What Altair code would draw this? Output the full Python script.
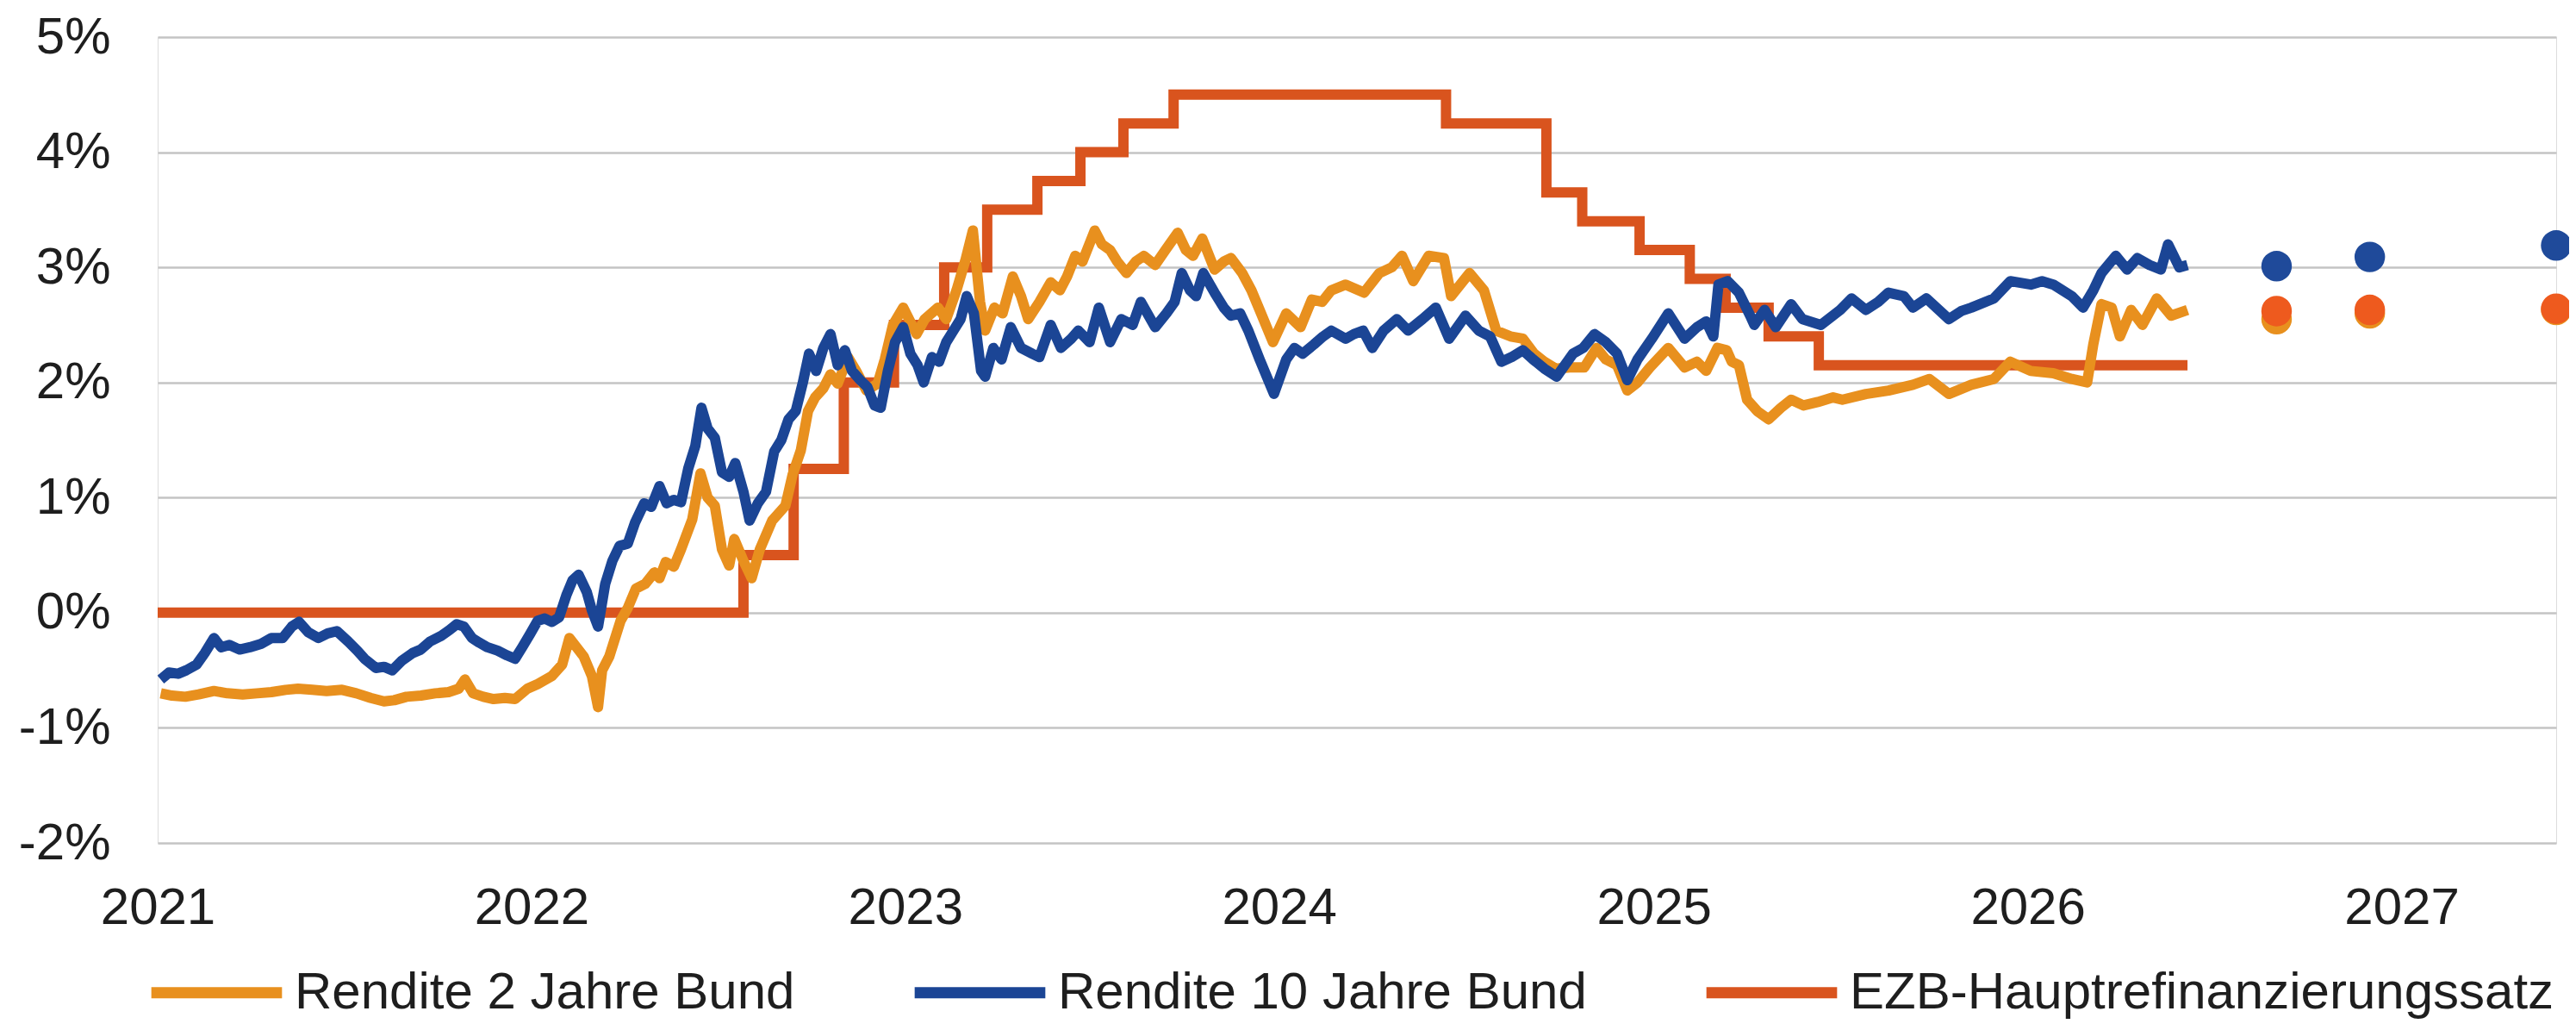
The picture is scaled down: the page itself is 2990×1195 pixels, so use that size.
import altair as alt
import pandas as pd

S2 = "Rendite 2 Jahre Bund"
S10 = "Rendite 10 Jahre Bund"
SE = "EZB-Hauptrefinanzierungssatz"
series_names = [S2, S10, SE]
series_colors = ["#E8901E", "#1B4595", "#D9541E"]

# ---- Rendite 2 Jahre Bund (in %) ----
dates_2y = [
    "2021-01-04", "2021-01-15", "2021-01-28", "2021-02-10", "2021-02-25", "2021-03-10", "2021-03-25", "2021-04-08",
    "2021-04-22", "2021-05-06", "2021-05-18", "2021-06-01", "2021-06-15", "2021-06-30", "2021-07-14", "2021-07-28",
    "2021-08-10", "2021-08-20", "2021-09-01", "2021-09-15", "2021-09-29", "2021-10-12", "2021-10-22", "2021-10-28",
    "2021-11-05", "2021-11-15", "2021-11-25", "2021-12-06", "2021-12-16", "2021-12-28",
    "2022-01-07", "2022-01-21", "2022-01-31", "2022-02-07", "2022-02-14", "2022-02-21", "2022-03-01", "2022-03-07",
    "2022-03-11", "2022-03-18", "2022-03-29", "2022-04-05", "2022-04-13", "2022-04-22", "2022-05-01", "2022-05-06",
    "2022-05-12", "2022-05-20", "2022-05-27", "2022-06-07", "2022-06-15", "2022-06-22", "2022-06-29", "2022-07-06",
    "2022-07-13", "2022-07-18", "2022-07-27", "2022-08-04", "2022-08-12", "2022-08-24", "2022-09-06", "2022-09-13",
    "2022-09-21", "2022-09-28", "2022-10-05", "2022-10-13", "2022-10-20", "2022-10-27", "2022-11-06", "2022-11-14",
    "2022-11-24", "2022-12-05", "2022-12-12", "2022-12-20", "2022-12-30",
    "2023-01-12", "2023-01-20", "2023-02-02", "2023-02-10", "2023-02-20", "2023-03-01", "2023-03-08", "2023-03-15",
    "2023-03-20", "2023-03-29", "2023-04-06", "2023-04-16", "2023-04-24", "2023-05-01", "2023-05-12", "2023-05-23",
    "2023-06-01", "2023-06-08", "2023-06-16", "2023-06-23", "2023-07-05", "2023-07-12", "2023-07-20", "2023-07-27",
    "2023-08-05", "2023-08-14", "2023-08-22", "2023-09-02", "2023-09-12", "2023-09-24", "2023-10-02", "2023-10-09",
    "2023-10-18", "2023-10-30", "2023-11-08", "2023-11-15", "2023-11-26", "2023-12-05", "2023-12-13", "2023-12-26",
    "2024-01-08", "2024-01-22", "2024-02-02", "2024-02-12", "2024-02-21", "2024-03-06", "2024-03-24", "2024-04-08",
    "2024-04-20", "2024-04-30", "2024-05-11", "2024-05-26", "2024-06-10", "2024-06-17", "2024-07-05", "2024-07-19",
    "2024-07-31", "2024-08-14", "2024-08-26", "2024-09-06", "2024-09-16", "2024-09-27", "2024-10-11", "2024-10-25",
    "2024-11-06", "2024-11-15", "2024-11-26", "2024-12-06", "2024-12-16", "2024-12-28",
    "2025-01-15", "2025-01-31", "2025-02-12", "2025-02-21", "2025-03-04", "2025-03-13", "2025-03-18", "2025-03-25",
    "2025-04-02", "2025-04-12", "2025-04-23", "2025-05-05", "2025-05-15", "2025-05-27", "2025-06-10", "2025-06-25",
    "2025-07-04", "2025-07-27", "2025-08-18", "2025-09-11", "2025-09-27", "2025-10-16", "2025-11-07", "2025-11-29",
    "2025-12-15",
    "2026-01-04", "2026-01-26", "2026-02-13", "2026-02-28", "2026-03-06", "2026-03-14", "2026-03-24", "2026-04-01",
    "2026-04-12", "2026-04-23", "2026-05-07", "2026-05-21", "2026-06-06",
]
yield_2y = [
    -0.70, -0.72, -0.73, -0.71, -0.68, -0.70, -0.71, -0.70,
    -0.69, -0.67, -0.66, -0.67, -0.68, -0.67, -0.70, -0.74,
    -0.77, -0.76, -0.73, -0.72, -0.70, -0.69, -0.66, -0.58,
    -0.70, -0.73, -0.75, -0.74, -0.75, -0.66,
    -0.62, -0.55, -0.45, -0.22, -0.30, -0.38, -0.55, -0.82,
    -0.50, -0.38, -0.07, 0.04, 0.21, 0.25, 0.35, 0.30,
    0.44, 0.40, 0.55, 0.81, 1.21, 1.00, 0.93, 0.55,
    0.41, 0.64, 0.45, 0.30, 0.55, 0.80, 0.93, 1.20,
    1.41, 1.75, 1.87, 1.95, 2.07, 1.99, 2.22, 2.10,
    1.93, 1.99, 2.20, 2.50, 2.65,
    2.42, 2.55, 2.65, 2.55, 2.80, 3.07, 3.32, 2.70,
    2.45, 2.65, 2.60, 2.92, 2.75, 2.55, 2.70, 2.87,
    2.80, 2.92, 3.10, 3.05, 3.32, 3.20, 3.15, 3.05,
    2.95, 3.05, 3.10, 3.02, 3.15, 3.30, 3.15, 3.10,
    3.25, 2.98, 3.05, 3.08, 2.95, 2.80, 2.63, 2.35,
    2.60, 2.48, 2.72, 2.70, 2.80, 2.85, 2.78, 2.95,
    3.00, 3.10, 2.88, 3.10, 3.08, 2.75, 2.95, 2.80,
    2.45, 2.40, 2.38, 2.25, 2.18, 2.12, 2.13, 2.13,
    2.30, 2.20, 2.15, 1.93, 2.00, 2.13,
    2.30, 2.13, 2.18, 2.10, 2.30, 2.28, 2.18, 2.15,
    1.85, 1.75, 1.68, 1.78, 1.85, 1.80, 1.83, 1.87,
    1.85, 1.90, 1.93, 1.98, 2.03, 1.90, 1.98, 2.03,
    2.18,
    2.10, 2.08, 2.03, 2.00, 2.33, 2.68, 2.65, 2.40,
    2.63, 2.50, 2.73, 2.58, 2.63,
]

# ---- Rendite 10 Jahre Bund (in %) ----
dates_10y = [
    "2021-01-04", "2021-01-12", "2021-01-21", "2021-01-29", "2021-02-08", "2021-02-16", "2021-02-25", "2021-03-04",
    "2021-03-12", "2021-03-22", "2021-04-01", "2021-04-12", "2021-04-22", "2021-05-03", "2021-05-12", "2021-05-19",
    "2021-05-28", "2021-06-07", "2021-06-16", "2021-06-25", "2021-07-06", "2021-07-15", "2021-07-22", "2021-08-02",
    "2021-08-10", "2021-08-18", "2021-08-27", "2021-09-07", "2021-09-15", "2021-09-24", "2021-10-05", "2021-10-13",
    "2021-10-20", "2021-10-27", "2021-11-04", "2021-11-11", "2021-11-19", "2021-11-29", "2021-12-08", "2021-12-16",
    "2021-12-23", "2021-12-31",
    "2022-01-07", "2022-01-14", "2022-01-21", "2022-01-28", "2022-02-04", "2022-02-10", "2022-02-16", "2022-02-24",
    "2022-03-01", "2022-03-07", "2022-03-14", "2022-03-21", "2022-03-28", "2022-04-05", "2022-04-12", "2022-04-21",
    "2022-04-28", "2022-05-06", "2022-05-13", "2022-05-20", "2022-05-27", "2022-06-03", "2022-06-10", "2022-06-16",
    "2022-06-22", "2022-06-29", "2022-07-06", "2022-07-13", "2022-07-19", "2022-07-27", "2022-08-02", "2022-08-10",
    "2022-08-18", "2022-08-26", "2022-09-02", "2022-09-09", "2022-09-16", "2022-09-23", "2022-09-29", "2022-10-06",
    "2022-10-13", "2022-10-20", "2022-10-27", "2022-11-03", "2022-11-10", "2022-11-18", "2022-11-25", "2022-12-02",
    "2022-12-08", "2022-12-15", "2022-12-22", "2022-12-30",
    "2023-01-06", "2023-01-13", "2023-01-19", "2023-01-27", "2023-02-03", "2023-02-10", "2023-02-17", "2023-02-24",
    "2023-03-02", "2023-03-09", "2023-03-16", "2023-03-20", "2023-03-28", "2023-04-05", "2023-04-14", "2023-04-24",
    "2023-05-05", "2023-05-12", "2023-05-23", "2023-06-02", "2023-06-12", "2023-06-19", "2023-06-30", "2023-07-09",
    "2023-07-20", "2023-07-31", "2023-08-11", "2023-08-19", "2023-09-02", "2023-09-13", "2023-09-21", "2023-09-28",
    "2023-10-06", "2023-10-12", "2023-10-19", "2023-10-30", "2023-11-08", "2023-11-15", "2023-11-24", "2023-12-02",
    "2023-12-13", "2023-12-27",
    "2024-01-08", "2024-01-16", "2024-01-24", "2024-02-04", "2024-02-13", "2024-02-21", "2024-03-06", "2024-03-14",
    "2024-03-23", "2024-04-01", "2024-04-12", "2024-04-25", "2024-05-06", "2024-05-20", "2024-06-02", "2024-06-15",
    "2024-07-01", "2024-07-14", "2024-07-25", "2024-08-05", "2024-08-15", "2024-08-26", "2024-09-05", "2024-09-16",
    "2024-09-28", "2024-10-14", "2024-10-24", "2024-11-04", "2024-11-15", "2024-11-26", "2024-12-06", "2024-12-16",
    "2024-12-30",
    "2025-01-15", "2025-01-31", "2025-02-12", "2025-02-21", "2025-02-28", "2025-03-05", "2025-03-14", "2025-03-25",
    "2025-04-05", "2025-04-09", "2025-04-19", "2025-04-30", "2025-05-15", "2025-05-26", "2025-06-13", "2025-07-02",
    "2025-07-13", "2025-07-27", "2025-08-08", "2025-08-18", "2025-09-02", "2025-09-11", "2025-09-24", "2025-10-16",
    "2025-10-28", "2025-11-07", "2025-11-29", "2025-12-15",
    "2026-01-04", "2026-01-15", "2026-01-26", "2026-02-13", "2026-02-24", "2026-03-06", "2026-03-14", "2026-03-28",
    "2026-04-08", "2026-04-18", "2026-04-30", "2026-05-11", "2026-05-18", "2026-05-29", "2026-06-06",
]
yield_10y = [
    -0.58, -0.52, -0.53, -0.50, -0.45, -0.35, -0.22, -0.30,
    -0.28, -0.32, -0.30, -0.27, -0.22, -0.22, -0.12, -0.08,
    -0.17, -0.22, -0.18, -0.16, -0.25, -0.33, -0.40, -0.48,
    -0.47, -0.50, -0.42, -0.35, -0.32, -0.25, -0.20, -0.15,
    -0.10, -0.12, -0.22, -0.26, -0.30, -0.33, -0.37, -0.40,
    -0.30, -0.18,
    -0.07, -0.05, -0.08, -0.04, 0.15, 0.28, 0.33, 0.18,
    0.02, -0.12, 0.25, 0.45, 0.58, 0.60, 0.78, 0.95,
    0.92, 1.10, 0.95, 0.98, 0.96, 1.25, 1.45, 1.78,
    1.60, 1.52, 1.22, 1.18, 1.30, 1.05, 0.80, 0.95,
    1.05, 1.40, 1.50, 1.68, 1.75, 2.00, 2.25, 2.10,
    2.30, 2.42, 2.15, 2.28, 2.10, 2.02, 1.96, 1.80,
    1.78, 2.10, 2.35, 2.48,
    2.25, 2.15, 2.00, 2.22, 2.18, 2.35, 2.45, 2.55,
    2.75, 2.60, 2.10, 2.05, 2.30, 2.20, 2.48, 2.30,
    2.25, 2.22, 2.50, 2.30, 2.38, 2.45, 2.35, 2.65,
    2.35, 2.55, 2.50, 2.70, 2.48, 2.60, 2.70, 2.95,
    2.80, 2.75, 2.95, 2.78, 2.65, 2.58, 2.60, 2.45,
    2.20, 1.90,
    2.20, 2.30, 2.25, 2.33, 2.40, 2.45, 2.38, 2.42,
    2.45, 2.30, 2.45, 2.55, 2.45, 2.55, 2.65, 2.38,
    2.58, 2.45, 2.40, 2.18, 2.22, 2.28, 2.20, 2.12,
    2.05, 2.25, 2.30, 2.42, 2.35, 2.25, 2.02, 2.20,
    2.38,
    2.60, 2.38, 2.48, 2.53, 2.40, 2.85, 2.88, 2.78,
    2.58, 2.50, 2.63, 2.48, 2.68, 2.55, 2.50, 2.63,
    2.73, 2.63, 2.70, 2.78, 2.75, 2.65, 2.73, 2.55,
    2.62, 2.65, 2.73, 2.88,
    2.85, 2.88, 2.85, 2.75, 2.65, 2.80, 2.95, 3.10,
    2.98, 3.08, 3.02, 2.98, 3.20, 3.00, 3.02,
]

# ---- EZB-Hauptrefinanzierungssatz (in %) ----
dates_ezb = [
    "2021-01-01", "2022-07-27", "2022-09-14", "2022-11-02", "2022-12-21", "2023-02-08", "2023-03-22",
    "2023-05-10", "2023-06-21", "2023-08-02", "2023-09-20", "2024-06-12", "2024-09-18", "2024-10-23",
    "2024-12-18", "2025-02-05", "2025-03-12", "2025-04-23", "2025-06-11", "2026-06-06",
]
rate_ezb = [
    0.00, 0.50, 1.25, 2.00, 2.50, 3.00, 3.50,
    3.75, 4.00, 4.25, 4.50, 4.25, 3.65, 3.40,
    3.15, 2.90, 2.65, 2.40, 2.15, 2.15,
]

# ---- Prognosepunkte ----
forecast_dates = ["2026-09-01", "2026-12-01", "2027-06-01"]
forecast_2y = [2.55, 2.60, 2.63]
forecast_2y_red = [2.62, 2.63, 2.64]
forecast_10y = [3.01, 3.09, 3.19]

assert len(dates_2y) == len(yield_2y)
assert len(dates_10y) == len(yield_10y)
assert len(dates_ezb) == len(rate_ezb)

df2 = pd.DataFrame({"date": dates_2y, "value": yield_2y, "series": S2})
df10 = pd.DataFrame({"date": dates_10y, "value": yield_10y, "series": S10})
dfe = pd.DataFrame({"date": dates_ezb, "value": rate_ezb, "series": SE})
dfo = pd.DataFrame({"date": forecast_dates, "value": forecast_2y})
dfr = pd.DataFrame({"date": forecast_dates, "value": forecast_2y_red})
dfb = pd.DataFrame({"date": forecast_dates, "value": forecast_10y})

FONT = "Liberation Sans"
TXT = "#1e1e1e"

x_enc = alt.X(
    "date:T",
    scale=alt.Scale(domain=[alt.DateTime(year=2021, month=1, date=1),
                            alt.DateTime(year=2027, month=6, date=1)]),
    axis=alt.Axis(
        values=[alt.DateTime(year=y, month=1, date=1) for y in range(2021, 2028)],
        format="%Y", title=None, grid=False, domain=False, ticks=False,
        labelFontSize=60, labelFont=FONT, labelColor=TXT, labelPadding=46,
        labelFlush=False, labelOverlap=False, labelBound=False,
    ),
)
y_enc = alt.Y(
    "value:Q",
    scale=alt.Scale(domain=[-2, 5], nice=False, zero=False),
    axis=alt.Axis(
        values=list(range(-2, 6)), labelExpr="datum.value + '%'", title=None,
        domain=False, ticks=False, grid=True, gridColor="#C4C4C4", gridWidth=2.5,
        labelFontSize=60, labelFont=FONT, labelColor=TXT, labelPadding=55,
    ),
)

legend = alt.Legend(
    orient="none", legendX=-14, legendY=1026, direction="horizontal", title=None,
    symbolType="stroke", symbolSize=23000, symbolStrokeWidth=13,
    labelFontSize=60, labelFont=FONT, labelColor=TXT, labelLimit=2000,
    labelOffset=8, columnPadding=112, padding=0,
)
color_enc = alt.Color("series:N", scale=alt.Scale(domain=series_names, range=series_colors), legend=legend)

LW = 12
ezb_line = alt.Chart(dfe).mark_line(interpolate="step-after", strokeWidth=LW).encode(
    x=x_enc, y=y_enc, color=color_enc)
line2 = alt.Chart(df2).mark_line(strokeWidth=LW, strokeJoin="round").encode(
    x=x_enc, y=y_enc, color=color_enc)
line10 = alt.Chart(df10).mark_line(strokeWidth=LW, strokeJoin="round").encode(
    x=x_enc, y=y_enc, color=color_enc)

dots2 = alt.Chart(dfo).mark_circle(size=1257, opacity=1).encode(
    x=x_enc, y=y_enc, color=alt.value("#E8901E"))
dotsr = alt.Chart(dfr).mark_circle(size=1257, opacity=1).encode(
    x=x_enc, y=y_enc, color=alt.value("#EE5A1E"))
dots10 = alt.Chart(dfb).mark_circle(size=1257, opacity=1).encode(
    x=x_enc, y=y_enc, color=alt.value("#1F4A9A"))

chart = alt.layer(ezb_line, line2, line10, dots2, dotsr, dots10).properties(
    width=2784, height=935,
    autosize=alt.AutoSizeParams(type="none"),
    padding={"left": 175, "top": 35, "right": 15, "bottom": 209},
    background="white",
).configure_view(stroke=None).configure(font=FONT)

chart.save("out.html", embed_options={"renderer": "svg", "actions": False})
